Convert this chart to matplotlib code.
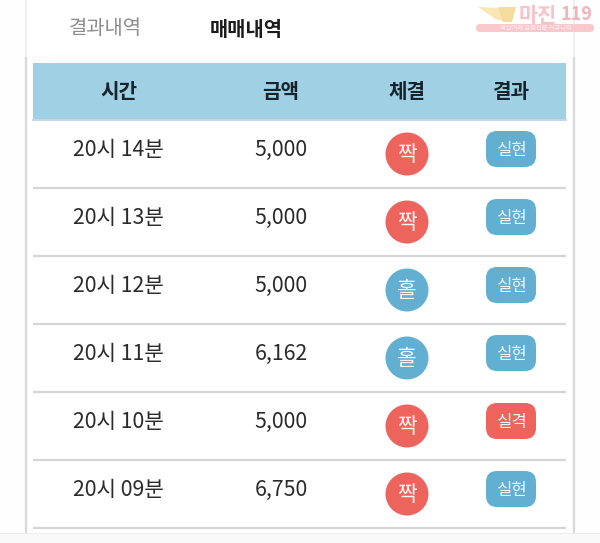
import matplotlib
matplotlib.use('Agg')
import matplotlib.pyplot as plt
from matplotlib.patches import Circle, FancyBboxPatch, Polygon, Rectangle

plt.rcParams['font.family'] = ['Noto Sans CJK KR', 'DejaVu Sans']

tabs = ['결과내역', '매매내역']
headers = ['시간', '금액', '체결', '결과']
times = ['20시 14분', '20시 13분', '20시 12분', '20시 11분', '20시 10분', '20시 09분']
amounts = ['5,000', '5,000', '5,000', '6,162', '5,000', '6,750']
sides = ['짝', '짝', '홀', '홀', '짝', '짝']
results = ['실현', '실현', '실현', '실현', '실격', '실현']

RED = '#ec645c'
BLUE = '#62afd2'
col_x = [118.5, 281, 407, 511]
row_h = 68

fig = plt.figure(figsize=(6, 5.43), dpi=100, facecolor='#fefefe')
ax = fig.add_axes([0, 0, 1, 1])
ax.set_xlim(0, 600)
ax.set_ylim(543, 0)
ax.axis('off')

# card
ax.add_patch(FancyBboxPatch((26, -30), 548, 600, boxstyle='round,pad=0,rounding_size=12',
                            fc='white', ec='#e8e8e8', lw=1))
ax.plot([26, 26], [57, 533], color='#d9d9d9', lw=1.6, solid_capstyle='butt')
ax.plot([574, 574], [57, 533], color='#d9d9d9', lw=1.6, solid_capstyle='butt')
ax.add_patch(Rectangle((0, 533), 600, 10, fc='#f9f9f9', ec='none', zorder=3))
ax.plot([0, 600], [533, 533], color='#eeeeee', lw=0.8, zorder=4)

# tabs
ax.text(105, 29, tabs[0], ha='center', va='center', fontsize=14.3, color='#8c8c8c')
ax.text(246, 29, tabs[1], ha='center', va='center', fontsize=14.3, color='#1c1c1c', fontweight='bold')

# header
ax.add_patch(Rectangle((33, 63), 533, 57, fc='#9fd0e3', ec='none'))
ax.plot([33, 566], [120, 120], color='#c5d9e3', lw=1.5)
for x, h in zip(col_x, headers):
    ax.text(x, 91, h, ha='center', va='center', fontsize=14.5, fontweight='bold', color='#17242c')

# rows
for i in range(len(times)):
    off = i * row_h
    ax.plot([33, 566], [188 + off, 188 + off], color='#d5d5d5', lw=1.6, solid_capstyle='butt')
    ax.text(col_x[0], 150 + off, times[i], ha='center', va='center', fontsize=15.3, color='#2b2b2b')
    ax.text(col_x[1], 150 + off, amounts[i], ha='center', va='center', fontsize=15.3, color='#2b2b2b')
    side_color = RED if sides[i] == '짝' else BLUE
    ax.add_patch(Circle((col_x[2], 154 + off), 21.5, fc=side_color, ec='none'))
    ax.text(col_x[2], 155 + off, sides[i], ha='center', va='center', fontsize=15.5, color='#fdf3f0')
    badge_color = RED if results[i] == '실격' else BLUE
    ax.add_patch(FancyBboxPatch((486, 131 + off), 50, 36, boxstyle='round,pad=0,rounding_size=11',
                                fc=badge_color, ec='none'))
    ax.text(511, 150 + off, results[i], ha='center', va='center', fontsize=12, color='#eef6fa')

# watermark
ax.add_patch(Polygon([(478, 7), (500, 8), (510, 22), (497, 20)], fc='#f8e6b4', ec='none'))
ax.add_patch(Polygon([(516, 7), (512, 22), (503, 22), (498, 7)], fc='#f3dc9c', ec='none'))
ax.text(538, 15, '마진', ha='center', va='center', fontsize=15, fontweight='bold', color='#f7c3c8')
ax.text(576, 14, '119', ha='center', va='center', fontsize=13, fontweight='bold', style='italic', color='#f3b3ba')
ax.add_patch(FancyBboxPatch((476, 24), 118, 8, boxstyle='round,pad=0,rounding_size=4',
                            fc='#f8c8cd', ec='none'))
ax.text(536, 28, '먹잔거래 검증전문 커뮤니티', ha='center', va='center', fontsize=4.5, color='#fdeef0')

fig.savefig('out.png', dpi=100)
